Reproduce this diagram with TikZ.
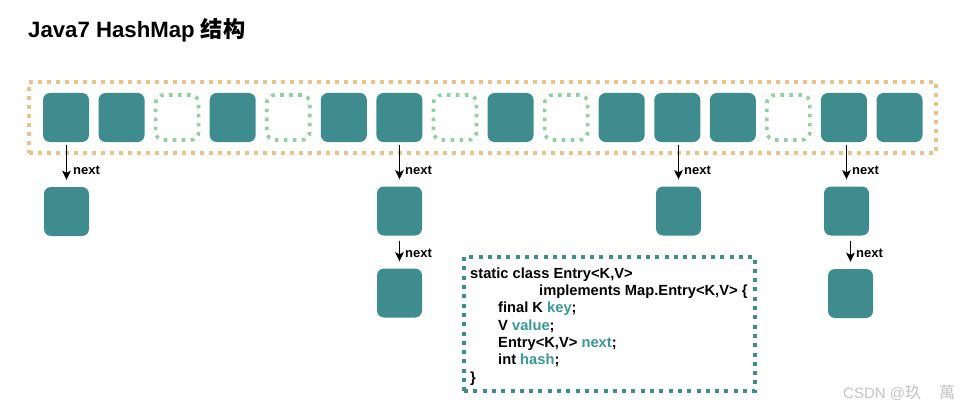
\documentclass[tikz,border=0pt]{standalone}
\usepackage{fontspec}
\setmainfont{Liberation Sans}
\newfontfamily\cjk{Noto Sans CJK SC}
\usetikzlibrary{arrows.meta}
\definecolor{tealfill}{HTML}{3E8C8E}
\definecolor{dotgreen}{HTML}{93CFA0}
\definecolor{dotorange}{HTML}{EAC38B}
\definecolor{kw}{HTML}{3A9898}
\definecolor{wm}{HTML}{C4C4C4}
\tikzset{
  cell/.style={rounded corners=7pt, fill=tealfill, minimum width=46pt, minimum height=49pt, inner sep=0pt},
  emptycell/.style={rounded corners=8pt, draw=dotgreen, line width=3.6pt, dash pattern=on 3.6pt off 5.4pt, minimum width=43pt, minimum height=45pt, inner sep=0pt},
  chain/.style={rounded corners=7pt, fill=tealfill, minimum width=45pt, minimum height=49pt, inner sep=0pt},
  nextarrow/.style={-{Stealth[length=9pt,width=8.5pt,inset=2pt]}, line width=1.6pt},
  nextlabel/.style={anchor=west, font=\bfseries\fontsize{13}{15}\selectfont, inner sep=0pt},
  codeline/.style={anchor=base west, font=\bfseries\fontsize{14.7}{16}\selectfont, inner sep=0pt},
}
\begin{document}
\begin{tikzpicture}[x=1pt, y=-1pt]
\useasboundingbox[fill=white] (0,0) rectangle (962,412);
% title
\node[anchor=base west, inner sep=0pt, font=\bfseries\fontsize{22.2}{26}\selectfont] (title) at (28,38) {Java7 HashMap {\cjk\bfseries 结构}};
% outer array
\node[draw=dotorange, line width=4pt, dash pattern=on 4pt off 5pt, minimum width=907pt, minimum height=71pt, inner sep=0pt] (array) at (482.5,117.5) {};
% cells
\foreach \i in {1,...,16} {
  \pgfmathsetmacro{\cx}{66+55.57*(\i-1)}
  \ifnum\i=3 \node[emptycell] (c\i) at (\cx,117.5) {};
  \else\ifnum\i=5 \node[emptycell] (c\i) at (\cx,117.5) {};
  \else\ifnum\i=8 \node[emptycell] (c\i) at (\cx,117.5) {};
  \else\ifnum\i=10 \node[emptycell] (c\i) at (\cx,117.5) {};
  \else\ifnum\i=14 \node[emptycell] (c\i) at (\cx,117.5) {};
  \else \node[cell] (c\i) at (\cx,117.5) {};
  \fi\fi\fi\fi\fi
}
% chains
\node[chain] (a1) at (66.5,211.5) {};
\node[chain] (b1) at (399.5,211) {};
\node[chain] (b2) at (399.5,293) {};
\node[chain] (e1) at (678.5,211) {};
\node[chain] (d1) at (846.5,211) {};
\node[chain] (d2) at (850.5,293.5) {};
% arrows
\draw[nextarrow, shorten <=3pt, shorten >=7pt] (a1.north |- c1.south) -- (a1.north);
\draw[nextarrow, shorten <=3pt, shorten >=7pt] (b1.north |- c7.south) -- (b1.north);
\draw[nextarrow, shorten <=5pt, shorten >=7pt] (b1.south) -- (b2.north);
\draw[nextarrow, shorten <=3pt, shorten >=7pt] (e1.north |- c12.south) -- (e1.north);
\draw[nextarrow, shorten <=3pt, shorten >=7pt] (d1.north |- c15.south) -- (d1.north);
\draw[nextarrow, shorten <=5pt, shorten >=7pt] (d2.north |- d1.south) -- (d2.north);
% labels
\node[nextlabel] (l1) at (73,170) {next};
\node[nextlabel] (l2) at (405,170) {next};
\node[nextlabel] (l3) at (405,253) {next};
\node[nextlabel] (l4) at (684,170) {next};
\node[nextlabel] (l5) at (852,170) {next};
\node[nextlabel] (l6) at (856,253) {next};
% code box
\node[draw=tealfill, line width=4pt, dash pattern=on 4pt off 5.3pt, minimum width=291pt, minimum height=134pt, inner sep=0pt] (entry) at (609.5,324) {};
\node[codeline] (k1) at (470,278) {static class Entry<K,V>};
\node[codeline] (k2) at (539,295.3) {implements Map.Entry<K,V> \{};
\node[codeline] (k3) at (498,312.6) {final K \textcolor{kw}{key};};
\node[codeline] (k4) at (498,330) {V \textcolor{kw}{value};};
\node[codeline] (k5) at (498,347.3) {Entry<K,V> \textcolor{kw}{next};};
\node[codeline] (k6) at (498,364.6) {int \textcolor{kw}{hash};};
\node[codeline] (k7) at (470,382) {\}};
% watermark
\node[anchor=base west, inner sep=0pt, text=wm, font=\fontsize{15}{17}\selectfont] (wmk) at (843,398.5) {CSDN @{\cjk\fontsize{16}{18}\selectfont 玖}\hspace{18pt}{\cjk\fontsize{16}{18}\selectfont 萬}};
\end{tikzpicture}
\end{document}
